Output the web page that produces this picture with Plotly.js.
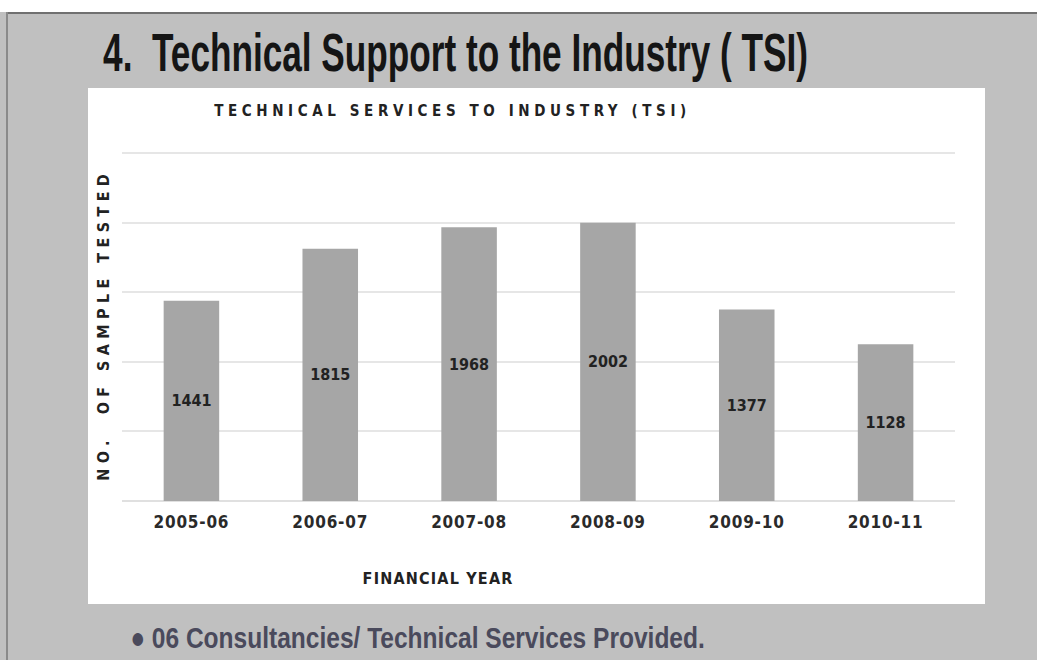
<!DOCTYPE html>
<html>
<head>
<meta charset="utf-8">
<script src="https://cdn.plot.ly/plotly-3.0.1.min.js"></script>
<style>
  html, body { margin: 0; padding: 0; background: #c0c0c0; }
  #chart { width: 1037px; height: 660px; }
  g.annotation[data-index="1"] text { letter-spacing: 4.6px; }
  g.annotation[data-index="2"] text { letter-spacing: 1.2px; }
  g.annotation[data-index="3"] text { letter-spacing: 5.4px; }
  g.xtick text { letter-spacing: 0.8px; }
  g.textpoint text { letter-spacing: 0.6px; }
</style>
</head>
<body>
<div id="chart"></div>
<script>
// ---- data ----
const years = ["2005-06", "2006-07", "2007-08", "2008-09", "2009-10", "2010-11"];
const samplesTested = [1441, 1815, 1968, 2002, 1377, 1128];
const slideTitle = "4.  Technical Support to the Industry ( TSI)";
const chartTitle = "TECHNICAL SERVICES TO INDUSTRY (TSI)";
const xTitle = "FINANCIAL YEAR";
const yTitle = "NO.  OF SAMPLE TESTED";
const bulletText = "\u25CF 06 Consultancies/ Technical Services Provided.";

// ---- geometry helpers (pixel -> paper) ----
const W = 1037, H = 660;
const M = { l: 122, r: 82, t: 152, b: 159 };
const PW = W - M.l - M.r, PH = H - M.t - M.b;
const px = v => (v - M.l) / PW;
const py = v => (H - M.b - v) / PH;

const boldFont = "DejaVu Sans Condensed, DejaVu Sans, Verdana, sans-serif";
const narrowFont = "Liberation Sans Narrow, Arial Narrow, Liberation Sans, sans-serif";

const trace = {
  type: "bar",
  x: years,
  y: samplesTested,
  text: samplesTested.map(String),
  textposition: "inside",
  insidetextanchor: "middle",
  textangle: 0,
  textfont: { family: boldFont, size: 16, color: "#222222", weight: "bold" },
  marker: { color: "#a6a6a6", line: { width: 0 } },
  width: 0.4,
  hoverinfo: "none"
};

const layout = {
  width: W, height: H,
  margin: M,
  paper_bgcolor: "#c0c0c0",
  plot_bgcolor: "#ffffff",
  showlegend: false,
  xaxis: {
    type: "category",
    showgrid: false,
    zeroline: false,
    showline: false,
    ticks: "",
    tickfont: { family: boldFont, size: 17, color: "#2a2a2a", weight: "bold" },
    ticklabelstandoff: 9
  },
  yaxis: {
    range: [0, 2510],
    tickvals: [0, 500, 1000, 1500, 2000, 2500],
    showticklabels: false,
    showgrid: true,
    gridcolor: "#e6e6e6",
    gridwidth: 2,
    zeroline: true,
    zerolinecolor: "#e0e0e0",
    zerolinewidth: 2,
    showline: false,
    ticks: ""
  },
  shapes: [
    { type: "rect", xref: "paper", yref: "paper", layer: "below",
      x0: px(88), x1: px(985), y0: py(604), y1: py(88),
      fillcolor: "#ffffff", line: { width: 0 } },
    { type: "rect", xref: "paper", yref: "paper", layer: "above",
      x0: px(0), x1: px(W), y0: py(12), y1: py(0),
      fillcolor: "#ffffff", line: { width: 0 } },
    { type: "line", xref: "paper", yref: "paper", layer: "above",
      x0: px(6), x1: px(W), y0: py(13), y1: py(13),
      line: { color: "#707070", width: 2 } },
    { type: "line", xref: "paper", yref: "paper", layer: "above",
      x0: px(7), x1: px(7), y0: py(12), y1: py(H),
      line: { color: "#8a8a8a", width: 2 } }
  ],
  annotations: [
    { text: slideTitle, xref: "paper", yref: "paper", x: px(102), y: py(52),
      xanchor: "left", yanchor: "middle", showarrow: false,
      font: { family: narrowFont, size: 54, color: "#151515", weight: "bold" } },
    { text: chartTitle, xref: "paper", yref: "paper", x: px(452), y: py(111),
      xanchor: "center", yanchor: "middle", showarrow: false,
      font: { family: boldFont, size: 15, color: "#222222", weight: "bold" } },
    { text: xTitle, xref: "paper", yref: "paper", x: px(438), y: py(578),
      xanchor: "center", yanchor: "middle", showarrow: false,
      font: { family: boldFont, size: 16, color: "#222222", weight: "bold" } },
    { text: yTitle, xref: "paper", yref: "paper", x: px(103), y: py(325),
      xanchor: "center", yanchor: "middle", textangle: -90, showarrow: false,
      font: { family: boldFont, size: 16, color: "#222222", weight: "bold" } },
    { text: bulletText, xref: "paper", yref: "paper", x: px(128), y: py(637),
      xanchor: "left", yanchor: "middle", showarrow: false,
      font: { family: narrowFont, size: 30, color: "#4a4a5c", weight: "bold" } }
  ]
};

// squeeze a text horizontally so it spans [left, right] pixels (slide uses condensed type)
function squeeze(index, left, right) {
  const t = document.querySelector('g.annotation[data-index="' + index + '"] text');
  if (!t) return;
  const bb = t.getBBox();
  const ctm = t.getScreenCTM();
  const host = document.getElementById('chart').getBoundingClientRect();
  const screenLeft = bb.x * ctm.a + ctm.e - host.left;
  const s = (right - left) / bb.width;
  const dx = (left - screenLeft);
  const x0 = bb.x;
  const prev = t.getAttribute('transform') || '';
  t.setAttribute('transform', prev + ' translate(' + (x0 + dx) + ',0) scale(' + s + ',1) translate(' + (-x0) + ',0)');
}

Plotly.newPlot("chart", [trace], layout, { staticPlot: true, displayModeBar: false }).then(function () {
  squeeze(0, 103, 808);
  squeeze(4, 130, 705);
});
</script>
</body>
</html>
